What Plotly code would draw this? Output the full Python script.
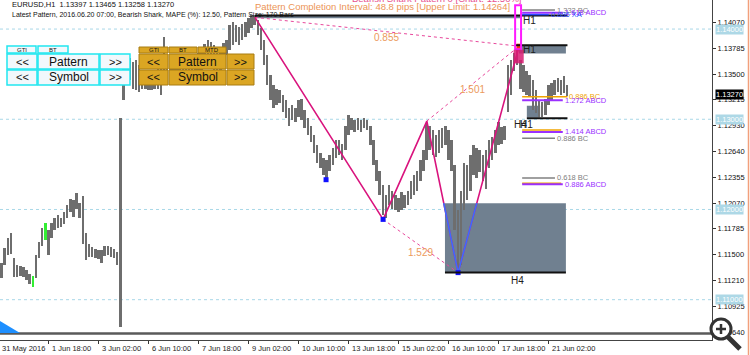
import numpy as np
import plotly.graph_objects as go

# ---------------- data ----------------
# 2-hour bars, hour index from 31 May 2016 10:00
highs = [
    1.1136, 1.1141, 1.1157, 1.1168, 1.1174, 1.1146, 1.1138, 1.1137, 1.1136, 1.1133,
    1.1129, 1.1126, 1.1149, 1.1164, 1.1179, 1.1185, 1.1177, 1.1185, 1.1191, 1.1194,
    1.1191, 1.1197, 1.1205, 1.1212, 1.1210, 1.1218, 1.1207, 1.1215, 1.1174, 1.1162,
    1.1158, 1.1156, 1.1155, 1.1155, 1.1159, 1.1160, 1.1158, 1.1156, 1.1153, 1.1301,
    1.1360, 1.1366, 1.1368, 1.1363, 1.1366, 1.1360, 1.1354, 1.1352, 1.1350, 1.1352,
    1.1354, 1.1357, 1.1366, 1.1391, 1.1363, 1.1362, 1.1360, 1.1359, 1.1363, 1.1366,
    1.1366, 1.1368, 1.1370, 1.1371, 1.1374, 1.1377, 1.1383, 1.1388, 1.1386, 1.1382,
    1.1379, 1.1377, 1.1384, 1.1388, 1.1404, 1.1408, 1.1404, 1.1402, 1.1406, 1.1408,
    1.1412, 1.1416, 1.1416, 1.1410, 1.1401, 1.1388, 1.1371, 1.1349, 1.1338, 1.1334,
    1.1332, 1.1327, 1.1321, 1.1312, 1.1316, 1.1312, 1.1321, 1.1323, 1.1310, 1.1301,
    1.1293, 1.1282, 1.1271, 1.1263, 1.1257, 1.1255, 1.1260, 1.1268, 1.1277, 1.1277,
    1.1273, 1.1293, 1.1305, 1.1301, 1.1299, 1.1301, 1.1299, 1.1301, 1.1299, 1.1293,
    1.1277, 1.1255, 1.1243, 1.1227, 1.1216, 1.1227, 1.1221, 1.1216, 1.1213, 1.1219,
    1.1216, 1.1221, 1.1232, 1.1238, 1.1243, 1.1255, 1.1266, 1.1296, 1.1293, 1.1288,
    1.1282, 1.1288, 1.1290, 1.1293, 1.1288, 1.1277, 1.1249, 1.1199, 1.1221, 1.1251,
    1.1249, 1.1260, 1.1271, 1.1268, 1.1266, 1.1260, 1.1266, 1.1277, 1.1280, 1.1288,
    1.1297, 1.1291, 1.1293, 1.1360, 1.1366, 1.1374, 1.1379, 1.1366, 1.1360, 1.1354,
    1.1349, 1.1343, 1.1332, 1.1321, 1.1319, 1.1323, 1.1338, 1.1340, 1.1343, 1.1346,
    1.1343, 1.1348, 1.1338]
lows = [
    1.1122, 1.1124, 1.1138, 1.1149, 1.1151, 1.1125, 1.1125, 1.1126, 1.1125, 1.1122,
    1.1117, 1.1114, 1.1124, 1.1146, 1.1160, 1.1166, 1.1149, 1.1168, 1.1177, 1.1180,
    1.1181, 1.1184, 1.1190, 1.1197, 1.1192, 1.1201, 1.1191, 1.1162, 1.1144, 1.1147,
    1.1147, 1.1146, 1.1145, 1.1141, 1.1148, 1.1150, 1.1147, 1.1146, 1.1138, 1.1070,
    1.1321, 1.1338, 1.1343, 1.1334, 1.1332, 1.1330, 1.1334, 1.1334, 1.1332, 1.1332,
    1.1334, 1.1334, 1.1327, 1.1343, 1.1339, 1.1339, 1.1338, 1.1338, 1.1340, 1.1339,
    1.1341, 1.1339, 1.1341, 1.1343, 1.1348, 1.1352, 1.1357, 1.1363, 1.1359, 1.1354,
    1.1352, 1.1354, 1.1366, 1.1371, 1.1377, 1.1382, 1.1386, 1.1382, 1.1388, 1.1391,
    1.1396, 1.1401, 1.1404, 1.1393, 1.1377, 1.1360, 1.1338, 1.1321, 1.1313, 1.1316,
    1.1318, 1.1308, 1.1301, 1.1293, 1.1299, 1.1297, 1.1302, 1.1299, 1.1290, 1.1282,
    1.1275, 1.1263, 1.1251, 1.1246, 1.1238, 1.1232, 1.1243, 1.1249, 1.1257, 1.1260,
    1.1255, 1.1266, 1.1282, 1.1288, 1.1286, 1.1288, 1.1286, 1.1290, 1.1288, 1.1271,
    1.1249, 1.1232, 1.1216, 1.1194, 1.1190, 1.1205, 1.1201, 1.1199, 1.1197, 1.1199,
    1.1202, 1.1205, 1.1212, 1.1216, 1.1221, 1.1232, 1.1243, 1.1255, 1.1266, 1.1260,
    1.1258, 1.1263, 1.1268, 1.1271, 1.1255, 1.1243, 1.1177, 1.1130, 1.1138, 1.1199,
    1.1210, 1.1221, 1.1238, 1.1235, 1.1241, 1.1232, 1.1223, 1.1246, 1.1255, 1.1263,
    1.1271, 1.1273, 1.1277, 1.1308, 1.1327, 1.1354, 1.1360, 1.1334, 1.1330, 1.1327,
    1.1325, 1.1310, 1.1307, 1.1302, 1.1302, 1.1305, 1.1316, 1.1321, 1.1327, 1.1330,
    1.1327, 1.1329, 1.1326]
green_bars = [11, 15]

tick_hours = [0, 32, 64, 96, 128, 160, 192, 224, 256, 288, 320, 352]
tick_labels = ["31 May 2016", "1 Jun 18:00", "3 Jun 02:00", "6 Jun 10:00",
               "7 Jun 18:00", "9 Jun 02:00", "10 Jun 10:00", "13 Jun 18:00",
               "15 Jun 02:00", "16 Jun 10:00", "17 Jun 18:00", "21 Jun 02:00"]
price_ticks = [1.14070, 1.13785, 1.13500, 1.13215, 1.12930, 1.12640, 1.12355,
               1.12070, 1.11785, 1.11500, 1.11210, 1.10925, 1.10640]
round_levels = [1.14000, 1.13000, 1.12000, 1.11000]
last_price = 1.13270

# Shark pattern X, A, B, C, D
pattern_hours = [164, 246, 274, 294, 333]
pattern_prices = [1.1413, 1.1189, 1.1298, 1.1130, 1.1381]
pivot_hours = [209.5, 246, 294]
pivot_prices = [1.1233, 1.1189, 1.1130]
ratio_labels = ["0.855", "1.501", "1.529"]
ratio_pairs = [(0, 4), (2, 4), (1, 3)]

pci_upper = 1.14264
pci_pips = 48.8

# PRZ zones
zone_x0 = [164, 333, 338, 285.6]
zone_x1 = [334, 363, 346.5, 363]
zone_lo = [1.1412, 1.1373, 1.1302, 1.1130]
zone_hi = [1.1415, 1.1382, 1.1315, 1.1207]

level_prices = [1.1421, 1.1418, 1.1416, 1.1325, 1.1321, 1.1288, 1.1286, 1.1279,
                1.1235, 1.1229, 1.1228]
level_labels = ["1.332 BC", "1.618 ABCD", "0.886 XA", "0.886 BC", "1.272 ABCD",
                "", "1.414 ABCD", "0.886 BC", "0.618 BC", "", "0.886 ABCD"]
level_colors = ["#808080", "#9b30ff", "#2a4bff", "#f0a400", "#9b30ff", "#f0a400",
                "#9b30ff", "#808080", "#808080", "#f0a400", "#9b30ff"]
level_ends = [356, 361, 352, 364, 361, 360, 361, 356, 356, 360, 361]
level_start = 335

# ---------------- figure ----------------
W, H = 712, 340
FONT = "Liberation Sans, Arial, sans-serif"
XR = [0.832, 456.5]
YR = [1.10553, 1.14322]


def pxx(x):
    return x / W


def pxy(y):
    return 1 - y / H


def hour_to_paper(h):
    return (h - XR[0]) / (XR[1] - XR[0])


n = min(len(highs), len(lows))
hi = np.array(highs[:n])
lo = np.array(lows[:n])
bar_hours = np.arange(n) * 2
colors = ["#33ee33" if i in green_bars else "#6e6e6e" for i in range(n)]

fig = go.Figure()
fig.add_trace(go.Bar(x=bar_hours, y=hi - lo, base=lo, width=1.25,
                     marker=dict(color=colors, line=dict(width=0)),
                     hoverinfo="skip"))

shapes = []
annotations = []

# dotted round-level grid
for lv in round_levels:
    shapes.append(dict(type="line", xref="paper", yref="y", x0=0, x1=1, y0=lv, y1=lv,
                       line=dict(color="#a8d8e8", width=1, dash="dot"), layer="below"))

# zones
for x0, x1, l, h in zip(zone_x0, zone_x1, zone_lo, zone_hi):
    shapes.append(dict(type="rect", xref="x", yref="y", x0=x0, x1=x1, y0=l, y1=h,
                       fillcolor="#708090", line=dict(width=0), layer="below"))
edge_price = [zone_hi[0], zone_hi[1], zone_lo[2] - 0.0001, zone_lo[3]]
edge_x0 = [164, 330.5, 338, 285.6]
edge_x1 = [364, 364, 364, 363]
for p, a, b in zip(edge_price, edge_x0, edge_x1):
    shapes.append(dict(type="line", xref="x", yref="y", x0=a, x1=b, y0=p, y1=p,
                       line=dict(color="#111111", width=2)))

# fib levels on the right
for p, lab, c, e in zip(level_prices, level_labels, level_colors, level_ends):
    w = 2 if c == "#9b30ff" else 1.5
    shapes.append(dict(type="line", xref="x", yref="y", x0=level_start, x1=e, y0=p, y1=p,
                       line=dict(color=c, width=w)))
    if lab:
        annotations.append(dict(x=e, y=p, xref="x", yref="y", text=lab, showarrow=False,
                                xanchor="left", yanchor="middle", xshift=0,
                                font=dict(family=FONT, size=7.5, color=c)))

# pattern completion interval rectangle
shapes.append(dict(type="rect", xref="x", yref="y", x0=330.5, x1=334.3,
                   y0=pci_upper - pci_pips / 10000, y1=pci_upper,
                   line=dict(color="#ff1aff", width=2), fillcolor="rgba(0,0,0,0)"))
shapes.append(dict(type="rect", xref="x", yref="y", x0=329.5, x1=336,
                   y0=1.1362, y1=1.1377, fillcolor="#d81b72", line=dict(width=0),
                   opacity=0.85))

# dashed ratio lines
for (i, j), lab in zip(ratio_pairs, ratio_labels):
    fig.add_trace(go.Scatter(x=[pattern_hours[i], pattern_hours[j]],
                             y=[pattern_prices[i], pattern_prices[j]], mode="lines",
                             line=dict(color="#e8489c", width=1, dash="dot"),
                             hoverinfo="skip"))
    annotations.append(dict(x=(pattern_hours[i] + pattern_hours[j]) / 2,
                            y=(pattern_prices[i] + pattern_prices[j]) / 2,
                            xref="x", yref="y", text=lab, showarrow=False, yshift=-6,
                            font=dict(family=FONT, size=10, color="#eb9a5c")))

# solid pattern polyline
fig.add_trace(go.Scatter(x=pattern_hours, y=pattern_prices, mode="lines",
                         line=dict(color="#d9137d", width=1.6), hoverinfo="skip"))
box_top = zone_hi[3]


def cross(i, j, level):
    f = (pattern_prices[i] - level) / (pattern_prices[i] - pattern_prices[j])
    return pattern_hours[i] + f * (pattern_hours[j] - pattern_hours[i])


bx = [cross(2, 3, box_top), pattern_hours[3], cross(3, 4, box_top)]
by = [box_top, pattern_prices[3], box_top]
fig.add_trace(go.Scatter(x=bx, y=by, mode="lines", line=dict(color="#3a6cff", width=1.6),
                         hoverinfo="skip"))
fig.add_trace(go.Scatter(x=pivot_hours, y=pivot_prices, mode="markers",
                         marker=dict(symbol="square", size=5, color="#1010ff"),
                         hoverinfo="skip"))
fig.add_trace(go.Scatter(x=[pattern_hours[4]], y=[pattern_prices[4]], mode="markers",
                         marker=dict(symbol="square", size=5, color="#ff3010"),
                         hoverinfo="skip"))

# zone labels
for x, y, t in [(334.5, 1.1410, "H1"), (334.5, 1.1377, "H1"),
                (328.5, 1.1294, "H4"), (332.5, 1.1294, "H1")]:
    annotations.append(dict(x=x, y=y, xref="x", yref="y", text=t, showarrow=False,
                            xanchor="left", yanchor="middle",
                            font=dict(family=FONT, size=10, color="#202020")))
annotations.append(dict(x=332, y=1.1130, xref="x", yref="y", text="H4", showarrow=False,
                        yshift=-8, font=dict(family=FONT, size=10, color="#202020")))

# x axis date labels (left aligned after each tick)
for h, t in zip(tick_hours, tick_labels):
    annotations.append(dict(x=hour_to_paper(h), y=-8 / H, xref="paper", yref="paper",
                            text=t, showarrow=False, xanchor="left", yanchor="middle",
                            xshift=1, font=dict(family=FONT, size=7.5, color="#222")))

# price highlight labels on the axis
for lv in round_levels:
    annotations.append(dict(x=1, y=lv, xref="paper", yref="y", text=f"{lv:.5f}",
                            showarrow=False, xanchor="left", yanchor="middle", xshift=3,
                            bgcolor="#add8e6", borderpad=0,
                            font=dict(family=FONT, size=7.5, color="white")))
annotations.append(dict(x=1, y=last_price, xref="paper", yref="y", text=f"{last_price:.5f}",
                        showarrow=False, xanchor="left", yanchor="middle", xshift=3,
                        bgcolor="#000000", borderpad=0,
                        font=dict(family=FONT, size=7.5, color="white")))

# header texts
annotations.append(dict(x=pxx(10), y=pxy(5), xref="paper", yref="paper",
                        text="EURUSD,H1  1.13397 1.13465 1.13258 1.13270", showarrow=False,
                        xanchor="left", yanchor="middle",
                        font=dict(family=FONT, size=7.5, color="#111")))
annotations.append(dict(x=pxx(10), y=pxy(15), xref="paper", yref="paper",
                        text="Latest Pattern, 2016.06.20 07:00, Bearish Shark, MAPE (%): 12.50, Pattern Size: 170 Bars",
                        showarrow=False, xanchor="left", yanchor="middle",
                        font=dict(family=FONT, size=7, color="#111")))
annotations.append(dict(x=pxx(253), y=pxy(6), xref="paper", yref="paper",
                        text="Pattern Completion Interval: 48.8 pips [Upper Limit: 1.14264]",
                        showarrow=False, xanchor="left", yanchor="middle",
                        font=dict(family=FONT, size=9.5, color="#ec9455")))
annotations.append(dict(x=pxx(350), y=pxy(-2), xref="paper", yref="paper",
                        text="Bearish Shark Pattern 0 [Chart: 12.50%]",
                        showarrow=False, xanchor="left", yanchor="middle",
                        font=dict(family=FONT, size=9.5, color="#e8508e")))


# buttons
def button(x0, y0, x1, y1, text, style, size):
    if style == "cyan":
        fill, line, lw = "#f2f8fc", "#22e6f0", 1.5
    else:
        fill, line, lw = "#dba623", "#a87c12", 1
    shapes.append(dict(type="rect", xref="paper", yref="paper", x0=pxx(x0), x1=pxx(x1),
                       y0=pxy(y1), y1=pxy(y0), fillcolor=fill, line=dict(color=line, width=lw)))
    annotations.append(dict(x=pxx((x0 + x1) / 2), y=pxy((y0 + y1) / 2), xref="paper",
                            yref="paper", text=text, showarrow=False, xanchor="center",
                            yanchor="middle", font=dict(family=FONT, size=size, color="#111")))


button(7, 46, 36, 53, "GTI", "cyan", 6)
button(38, 46, 68, 53, "BT", "cyan", 6)
for (y0, y1, mid) in [(54, 69, "Pattern"), (70, 85, "Symbol")]:
    button(7, y0, 37, y1, "<<", "cyan", 11)
    button(38, y0, 99, y1, mid, "cyan", 12)
    button(100, y0, 130, y1, ">>", "cyan", 11)
button(139, 47, 168, 53, "GTI", "orange", 6)
button(169, 47, 197, 53, "BT", "orange", 6)
button(198, 47, 226, 53, "MTD", "orange", 6)
for (y0, y1, mid) in [(54, 69, "Pattern"), (70, 85, "Symbol")]:
    button(139, y0, 168, y1, "<<", "orange", 11)
    button(169, y0, 226, y1, mid, "orange", 12)
    button(227, y0, 254, y1, ">>", "orange", 11)

# bottom decorations
shapes.append(dict(type="line", xref="paper", yref="paper", x0=0, x1=1, y0=pxy(333.5),
                   y1=pxy(333.5), line=dict(color="#5a5a5a", width=2.5)))
shapes.append(dict(type="path", xref="paper", yref="paper",
                   path=f"M 0,{pxy(321)} L {pxx(20)},{pxy(333)} L 0,{pxy(333)} Z",
                   fillcolor="#1e8fff", line=dict(width=0)))
# magnifier icon
shapes.append(dict(type="line", xref="paper", yref="paper", x0=pxx(727), y0=pxy(336),
                   x1=pxx(740), y1=pxy(349), line=dict(color="#333", width=5)))
shapes.append(dict(type="circle", xref="paper", yref="paper", x0=pxx(711), x1=pxx(731),
                   y0=pxy(339), y1=pxy(319), fillcolor="white", line=dict(color="#333", width=3)))
shapes.append(dict(type="line", xref="paper", yref="paper", x0=pxx(716), x1=pxx(726),
                   y0=pxy(329), y1=pxy(329), line=dict(color="#333", width=2.5)))
shapes.append(dict(type="line", xref="paper", yref="paper", x0=pxx(721), x1=pxx(721),
                   y0=pxy(324), y1=pxy(334), line=dict(color="#333", width=2.5)))
# right window edge
shapes.append(dict(type="line", xref="paper", yref="paper", x0=pxx(748.5), x1=pxx(748.5),
                   y0=pxy(-20), y1=pxy(360), line=dict(color="#f2a07c", width=1.5)))

fig.update_layout(
    width=750, height=355,
    margin=dict(l=0, r=38, t=0, b=15, pad=0),
    paper_bgcolor="white", plot_bgcolor="white",
    showlegend=False, bargap=0,
    shapes=shapes, annotations=annotations,
    font=dict(family=FONT, size=8, color="#111"),
    xaxis=dict(range=XR, tickvals=tick_hours, showticklabels=False, ticks="outside",
               ticklen=3, tickcolor="#333", showgrid=False, zeroline=False,
               showline=True, linecolor="#444", linewidth=1, fixedrange=True),
    yaxis=dict(range=YR, side="right", tickvals=price_ticks,
               ticktext=[f"{v:.5f}" for v in price_ticks], ticks="outside", ticklen=3,
               tickcolor="#333", tickfont=dict(family=FONT, size=7.5, color="#111"),
               showgrid=False, zeroline=False, showline=True, linecolor="#444",
               linewidth=1, fixedrange=True),
)

fig.write_html("out.html", config=dict(displayModeBar=False))
